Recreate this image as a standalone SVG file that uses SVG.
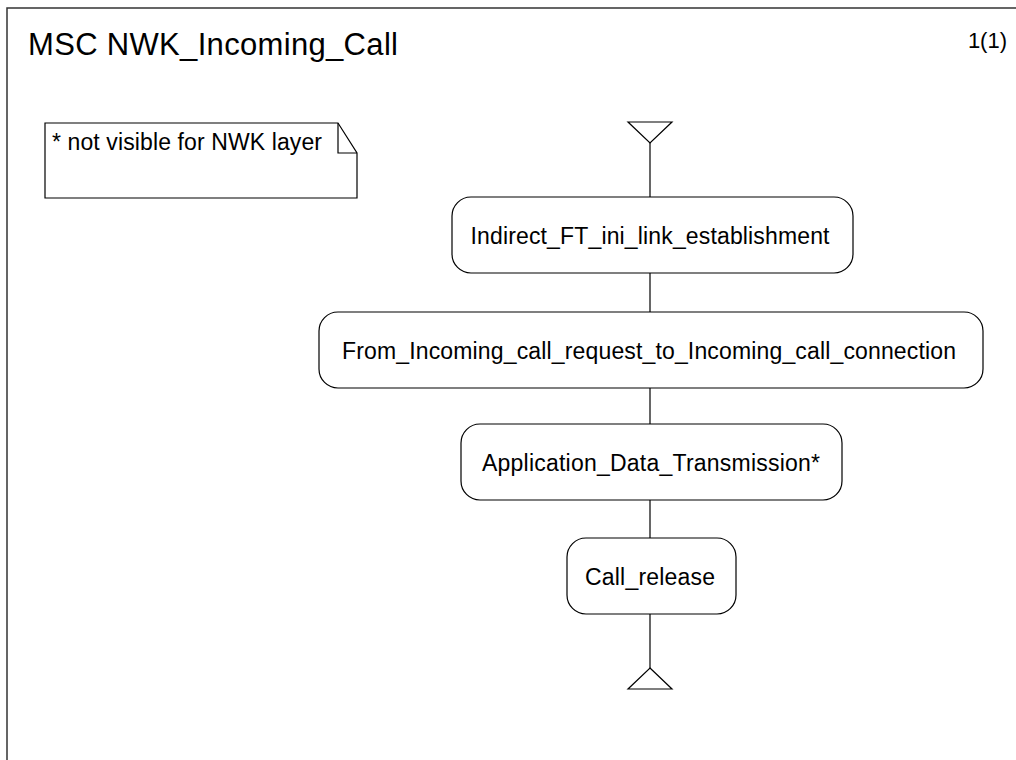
<svg xmlns="http://www.w3.org/2000/svg" width="1016" height="760" viewBox="0 0 1016 760">
<style>
.t{font-family:"Liberation Sans",Arial,sans-serif;fill:#000}
.b{fill:#fff;stroke:#000;stroke-width:1.2}
.ln{stroke:#000;stroke-width:1.2;fill:none}
</style>
<rect width="1016" height="760" fill="#fff"/>
<g id="frame">
<path d="M7,760 V8 H1016" fill="none" stroke="#333" stroke-width="1.5"/>
<text class="t" x="28" y="55" font-size="31" textLength="370">MSC NWK_Incoming_Call</text>
<text class="t" x="1007" y="48" font-size="22" text-anchor="end">1(1)</text>
</g>
<g id="note">
<path class="b" d="M45,123 H338 L357,153 V198 H45 Z"/>
<path class="ln" d="M338,123 V153 H357"/>
<text class="t" x="52" y="150" font-size="23" textLength="270">* not visible for NWK layer</text>
</g>
<g id="connectors">
<line class="ln" x1="650" y1="143" x2="650" y2="197"/>
<line class="ln" x1="650" y1="273" x2="650" y2="312"/>
<line class="ln" x1="650" y1="388" x2="650" y2="424"/>
<line class="ln" x1="650" y1="500" x2="650" y2="538"/>
<line class="ln" x1="650" y1="614" x2="650" y2="668"/>
</g>
<g id="start">
<path class="b" d="M628,122 H672 L650,143 Z"/>
</g>
<g id="n1">
<rect class="b" x="452" y="197" width="401" height="76" rx="19" ry="19"/>
<text class="t" x="650" y="244" font-size="23" text-anchor="middle" textLength="359">Indirect_FT_ini_link_establishment</text>
</g>
<g id="n2">
<rect class="b" x="319" y="312" width="664" height="76" rx="19" ry="19"/>
<text class="t" x="649" y="359" font-size="23" text-anchor="middle" textLength="614">From_Incoming_call_request_to_Incoming_call_connection</text>
</g>
<g id="n3">
<rect class="b" x="461" y="424" width="381" height="76" rx="19" ry="19"/>
<text class="t" x="651" y="471" font-size="23" text-anchor="middle" textLength="338">Application_Data_Transmission*</text>
</g>
<g id="n4">
<rect class="b" x="567" y="538" width="169" height="76" rx="19" ry="19"/>
<text class="t" x="650" y="585" font-size="23" text-anchor="middle" textLength="130">Call_release</text>
</g>
<g id="end">
<path class="b" d="M650,668 L672,689 H628 Z"/>
</g>
</svg>
